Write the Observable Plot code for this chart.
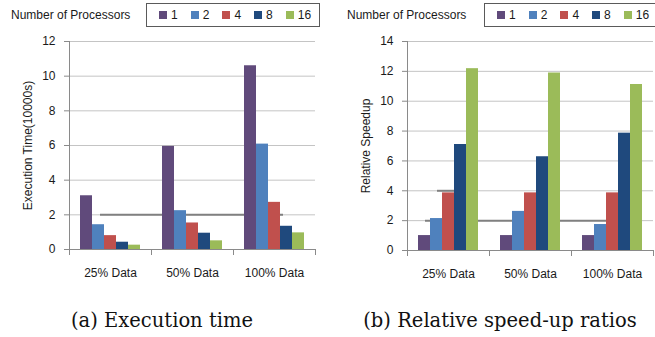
<!DOCTYPE html>
<html>
<head>
<meta charset="utf-8">
<script src="https://cdn.jsdelivr.net/npm/d3@7"></script>
<script src="https://cdn.jsdelivr.net/npm/@observablehq/plot@0.6"></script>
<style>
  body { margin: 0; background: #fff; }
  #root { position: relative; width: 655px; height: 337px; overflow: hidden; font-family: "Liberation Sans", Arial, sans-serif; color: #1a1a1a; }
  .panel { position: absolute; top: 0; }
  .ltitle { position: absolute; top: 8px; font-size: 12px; line-height: 14px; white-space: nowrap; }
  .lbox { position: absolute; top: 3px; height: 24px; box-sizing: border-box; border: 1px solid #5a5a5a; display: flex; align-items: center; padding-left: 12px; font-size: 12px; white-space: nowrap; background: #fff; }
  .litem { display: flex; align-items: center; width: 31.7px; flex: none; }
  .litem:last-child { width: auto; }
  .sw { width: 8px; height: 8px; margin-right: 4px; flex: none; }
  .caption { position: absolute; font-family: "DejaVu Serif", serif; font-size: 19.5px; white-space: nowrap; transform: translateX(-50%); top: 309px; color: #111; }
</style>
</head>
<body>
<div id="root"></div>
<script>
// ---- data ----
const groups = ["25% Data", "50% Data", "100% Data"];
const processors = ["1", "2", "4", "8", "16"];
const procColors = ["#604a7b", "#4f81bd", "#c0504d", "#1f497d", "#9bbb59"];

// Execution time (10000s), one array per data size, in processor order
const time25 = [3.1, 1.43, 0.8, 0.42, 0.25];
const time50 = [5.95, 2.24, 1.53, 0.94, 0.5];
const time100 = [10.6, 6.08, 2.72, 1.34, 0.96];

// Relative speedup, one array per data size, in processor order
const speed25 = [1, 2.14, 3.86, 7.1, 12.18];
const speed50 = [1, 2.62, 3.86, 6.28, 11.89];
const speed100 = [1, 1.74, 3.86, 7.86, 11.12];

const timeTicks = [0, 2, 4, 6, 8, 10, 12];
const speedTicks = [0, 2, 4, 6, 8, 10, 12, 14];

const legendTitle = "Number of Processors";
const timeLabel = "Execution Time(10000s)";
const speedLabel = "Relative Speedup";
const captionA = "(a) Execution time";
const captionB = "(b) Relative speed-up ratios";

// ---- build ----
const root = document.getElementById("root");
const AXIS = "#8a8a8a", GRID = "#c4c4c4", DARK = "#808080";

function rowsOf(series) {
  const out = [];
  groups.forEach((g, gi) => processors.forEach((p, pi) => out.push({group: g, proc: p, value: series[gi][pi]})));
  return out;
}

function panel({series, ticks, label, left, width, marginLeft, marginRight, marginBottom, darkMarks}) {
  const H = 290, marginTop = 41;
  const fh = H - marginTop - marginBottom;
  const rows = rowsOf(series);
  const svg = Plot.plot({
    width, height: H, marginTop, marginBottom, marginLeft, marginRight,
    style: {fontFamily: "'Liberation Sans', Arial, sans-serif", fontSize: "12px", color: "#1a1a1a", background: "transparent", overflow: "visible"},
    fx: {domain: groups, padding: 0, label: null},
    x: {domain: processors, paddingInner: 0, paddingOuter: 0.78, axis: null},
    y: {domain: [0, ticks[ticks.length - 1]], label: null},
    color: {domain: processors, range: procColors},
    marks: [
      Plot.ruleY(ticks, {stroke: GRID}),
      ...darkMarks,
      Plot.barY(rows, {fx: "group", x: "proc", y: "value", fill: "proc"}),
      Plot.ruleY([0], {stroke: AXIS}),
      Plot.frame({anchor: "left", facetAnchor: "left", stroke: AXIS}),
      Plot.frame({anchor: "left", stroke: AXIS, insetTop: fh, insetBottom: -5}),
      Plot.frame({anchor: "right", stroke: AXIS, insetTop: fh, insetBottom: -5}),
      Plot.axisY(ticks, {tickSize: 5, tickPadding: 9, stroke: AXIS, fill: "#1a1a1a", label, labelAnchor: "center", labelOffset: 46, labelArrow: "none"}),
      Plot.axisFx({anchor: "bottom", tickSize: 0, tickPadding: 19, label: null, fill: "#1a1a1a"})
    ]
  });
  const wrap = document.createElement("div");
  wrap.className = "panel";
  wrap.style.left = left + "px";
  wrap.appendChild(svg);
  root.appendChild(wrap);
}

function legend(titleLeft, boxLeft, boxWidth) {
  const t = document.createElement("div");
  t.className = "ltitle";
  t.style.left = titleLeft + "px";
  t.textContent = legendTitle;
  root.appendChild(t);
  const box = document.createElement("div");
  box.className = "lbox";
  box.style.left = boxLeft + "px";
  box.style.width = boxWidth + "px";
  processors.forEach((p, i) => {
    const it = document.createElement("div");
    it.className = "litem";
    const sw = document.createElement("span");
    sw.className = "sw";
    sw.style.background = procColors[i];
    const tx = document.createElement("span");
    tx.textContent = p;
    it.appendChild(sw); it.appendChild(tx);
    box.appendChild(it);
  });
  root.appendChild(box);
}

function caption(text, cx) {
  const c = document.createElement("div");
  c.className = "caption";
  c.style.left = cx + "px";
  c.textContent = text;
  root.appendChild(c);
}

const darkStyle = {stroke: DARK, strokeWidth: 2};

panel({
  series: [time25, time50, time100], ticks: timeTicks, label: timeLabel,
  left: 0, width: 330, marginLeft: 68, marginRight: 15, marginBottom: 41,
  darkMarks: [
    Plot.ruleY([{g: groups[0], v: 2}], {fx: "g", y: "v", insetLeft: 31, ...darkStyle}),
    Plot.ruleY([{g: groups[1], v: 2}], {fx: "g", y: "v", ...darkStyle}),
    Plot.ruleY([{g: groups[2], v: 2}], {fx: "g", y: "v", insetRight: 32, ...darkStyle})
  ]
});
panel({
  series: [speed25, speed50, speed100], ticks: speedTicks, label: speedLabel,
  left: 330, width: 325, marginLeft: 77, marginRight: 2, marginBottom: 40,
  darkMarks: [
    Plot.ruleY([{g: groups[0], v: 2}], {fx: "g", y: "v", insetLeft: 18, ...darkStyle}),
    Plot.ruleY([{g: groups[0], v: 4}], {fx: "g", y: "v", insetLeft: 30, insetRight: 20, ...darkStyle}),
    Plot.ruleY([{g: groups[1], v: 2}], {fx: "g", y: "v", ...darkStyle}),
    Plot.ruleY([{g: groups[2], v: 2}], {fx: "g", y: "v", insetRight: 40, ...darkStyle})
  ]
});

legend(11, 146, 174);
legend(347, 484, 180);
caption(captionA, 162);
caption(captionB, 500);
</script>
</body>
</html>
